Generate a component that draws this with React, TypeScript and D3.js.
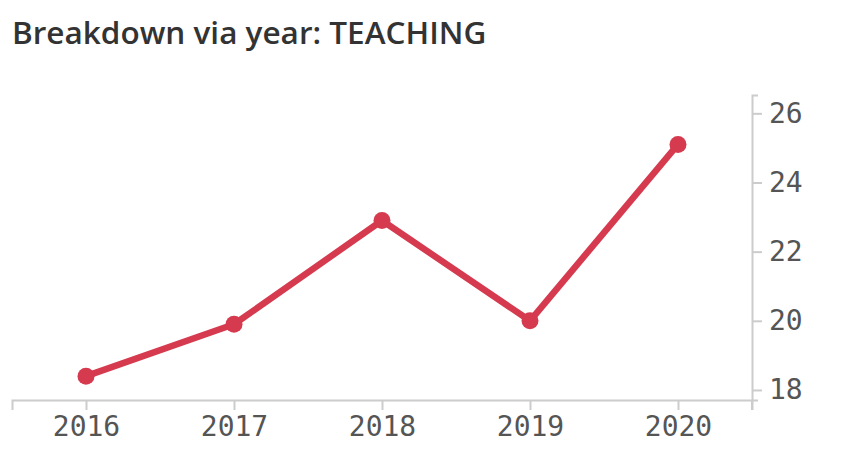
import React, { useEffect, useRef } from "react";
import * as d3 from "d3";

const years = ["2016", "2017", "2018", "2019", "2020"];
const values = [18.4, 19.9, 22.9, 20.0, 25.1];
const yTicks = [18, 20, 22, 24, 26];

const W = 846;
const H = 476;

const App: React.FC = () => {
  const svgRef = useRef(null);

  useEffect(() => {
    const svg = d3.select(svgRef.current);
    svg.selectAll("*").remove();

    const x = d3.scalePoint().domain(years).range([12, 752]).padding(0.5);
    const y = d3.scaleLinear().domain([17.71, 26.53]).range([400, 95]);

    svg
      .append("text")
      .attr("x", 12)
      .attr("y", 44)
      .attr("font-family", "'Open Sans', sans-serif")
      .attr("font-weight", 600)
      .attr("font-size", 31.5)
      .attr("fill", "#333")
      .text("Breakdown via year: TEACHING");

    const xAxis = svg
      .append("g")
      .attr("transform", "translate(0,400)")
      .call(d3.axisBottom(x).tickSize(10).tickSizeOuter(10).tickPadding(6));
    xAxis.select(".domain").attr("stroke", "#ccc").attr("stroke-width", 2);
    xAxis.selectAll(".tick line").attr("stroke", "#ccc").attr("stroke-width", 2);
    xAxis
      .selectAll(".tick text")
      .attr("font-family", "'DejaVu Sans Mono', monospace")
      .attr("font-size", 28)
      .attr("fill", "#555");

    const yAxis = svg
      .append("g")
      .attr("transform", "translate(752,0)")
      .call(
        d3
          .axisRight(y)
          .tickValues(yTicks)
          .tickSize(10)
          .tickSizeOuter(6)
          .tickPadding(7)
      );
    yAxis.select(".domain").attr("stroke", "#ccc").attr("stroke-width", 2);
    yAxis.selectAll(".tick line").attr("stroke", "#ccc").attr("stroke-width", 2);
    yAxis
      .selectAll(".tick text")
      .attr("font-family", "'DejaVu Sans Mono', monospace")
      .attr("font-size", 28)
      .attr("fill", "#555");
    // y axis runs a bit below the x axis
    svg
      .append("line")
      .attr("x1", 752)
      .attr("x2", 752)
      .attr("y1", 400)
      .attr("y2", 410)
      .attr("stroke", "#ccc")
      .attr("stroke-width", 2);

    const line = d3
      .line<number>()
      .x((d, i) => x(years[i]) as number)
      .y((d) => y(d));

    svg
      .append("path")
      .datum(values)
      .attr("d", line)
      .attr("fill", "none")
      .attr("stroke", "#d63a4f")
      .attr("stroke-width", 6.5)
      .attr("stroke-linejoin", "round");

    svg
      .selectAll("circle.pt")
      .data(values)
      .enter()
      .append("circle")
      .attr("class", "pt")
      .attr("cx", (d, i) => x(years[i]) as number)
      .attr("cy", (d) => y(d))
      .attr("r", 8.5)
      .attr("fill", "#d63a4f");
  }, []);

  return (
    <svg
      ref={svgRef}
      width={W}
      height={H}
      style={{ position: "absolute", left: 0, top: 0, background: "#fff" }}
    />
  );
};

export default App;
